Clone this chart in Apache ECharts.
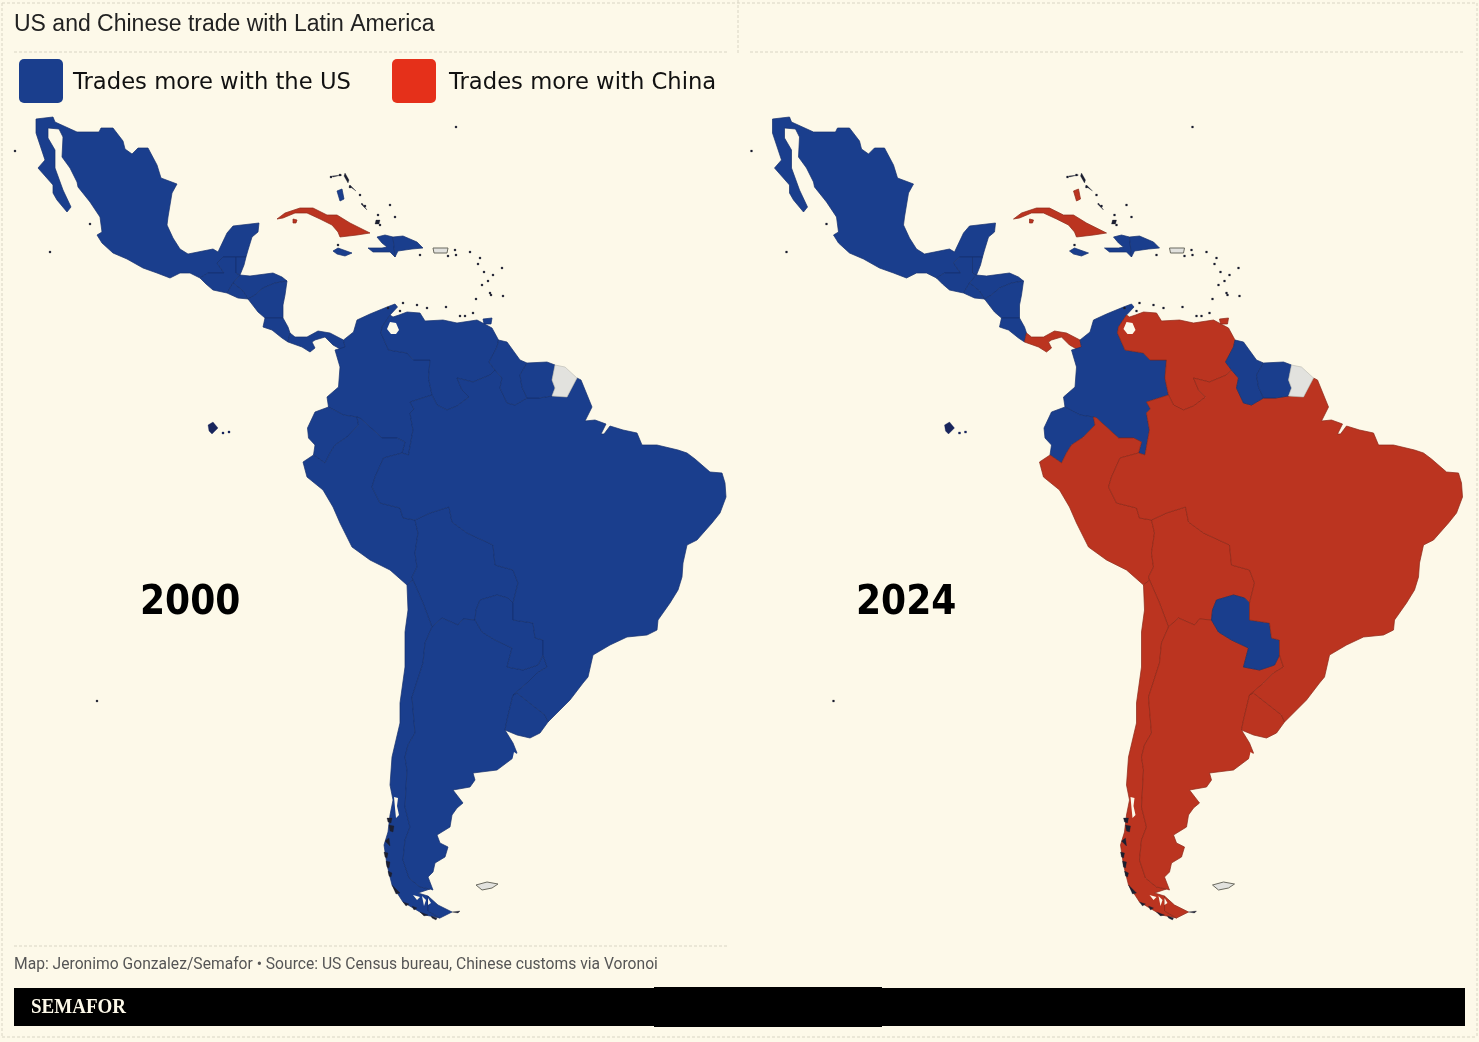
<!DOCTYPE html>
<html><head><meta charset="utf-8">
<script src="https://cdn.jsdelivr.net/npm/echarts@6/dist/echarts.min.js"></script>
<style>html,body{margin:0;padding:0;background:#fdf9e9}#c{width:1479px;height:1042px}</style>
</head><body><div id="c"></div>
<script>
// ---- data: who trades more with whom (US / China / none = territory, no data)
const countries = ['Mexico','Guatemala','Belize','Honduras','El Salvador','Nicaragua','Costa Rica','Panama','Colombia','Venezuela','Ecuador','Peru','Bolivia','Chile','Argentina','Paraguay','Uruguay','Brazil','Guyana','Suriname','Cuba','Jamaica','Haiti','Dominican Republic','Bahamas','Trinidad'];
const status2000 = ['US','US','US','US','US','US','US','US','US','US','US','US','US','US','US','US','US','US','US','US','China','US','US','US','US','US'];
const status2024 = ['US','US','US','US','US','US','US','China','US','China','US','China','China','China','China','US','China','China','US','US','China','US','US','US','China','China'];
const noData = ['French Guiana','Puerto Rico','Falklands'];
const islets = 'Islets', lakes = 'Water', galapagos = 'Galapagos';
const colors = {US:'#1a3e8d', China:'#bb3420'};
const borders = {US:'#142f6e', China:'#8c2717'};
const years = ['2000','2024'];
const legendLabels = ['Trades more with the US','Trades more with China'];
const titleText = 'US and Chinese trade with Latin America';
const sourceText = 'Map: Jeronimo Gonzalez/Semafor \u2022 Source: US Census bureau, Chinese customs via Voronoi';
const brandText = 'SEMAFOR';

// ---- country outlines in map units
const mexico=[[36,119],[53,117],[55,122],[77,132],[99,132],[101,128],[113,128],[123,141],[125,149],[132,154],[138,148],[148,148],[157,165],[161,178],[177,184],[172,193],[168,217],[167,225],[173,238],[180,249],[188,254],[213,249],[218,252],[227,233],[233,226],[259,223],[258,232],[252,237],[248,250],[246,257],[236,257],[223,257],[217,263],[224,273],[208,273],[200,278],[190,273],[180,273],[170,278],[157,273],[143,268],[127,259],[113,253],[102,243],[97,235],[102,232],[100,217],[90,202],[78,187],[77,182],[70,168],[62,157],[63,137],[59,129],[48,128],[48,138],[55,150],[55,168],[63,190],[71,207],[67,212],[57,200],[53,193],[53,185],[38,168],[45,160],[36,133]];
const guatemala=[[223,257],[236,257],[236,273],[240,275],[233,283],[227,293],[213,290],[206,284],[200,278],[208,273],[224,273],[217,263]];
const belize=[[236,257],[246,257],[244,265],[240,275],[236,273]];
const honduras=[[240,275],[250,276],[273,273],[282,277],[287,281],[275,283],[263,288],[255,295],[248,299],[243,291],[233,283]];
const salvador=[[227,293],[233,283],[243,291],[248,299],[238,298]];
const nicaragua=[[287,281],[285,295],[283,305],[283,318],[265,318],[258,312],[248,299],[255,295],[263,288],[275,283]];
const costaRica=[[265,318],[283,318],[288,327],[290,333],[288,342],[282,338],[272,330],[263,327]];
const panama=[[290,333],[295,337],[307,337],[318,331],[330,333],[343.5,340],[345,347],[342,350],[333,345],[325,337],[315,340],[312,342],[315,348],[310,352],[302,347],[288,342]];
const colombia=[[343.5,340],[353.5,332],[357,320],[370,314],[387,307],[395,304],[397.5,307],[390,315],[382,327],[381,333],[388.5,350],[407,353],[413.5,360],[430,360],[428.5,378],[432,395],[410,402],[414,409],[410,413],[413,430],[408.5,455],[402,453],[405,442],[397,438],[382,438],[360,418],[357,417],[343.5,415],[328.5,407],[327,397],[338.5,387],[340,367],[335,350],[345,347]];
const venezuela=[[381,333],[388.5,350],[407,353],[413.5,360],[430,360],[428.5,378],[432,395],[437,405],[447,410],[457,406],[469,397],[462,390],[457,378],[473,382],[490,375],[495,370],[489,362],[497,347],[498.5,340],[492,328],[477,320],[457,323],[443,320],[425,321],[420,313],[407,312],[399,315],[393,317],[390,315],[382,327]];
const ecuador=[[357,417],[358.5,425],[347,437],[335,445],[330,453],[325,463],[313.5,455],[315,445],[308.5,438],[307.5,428],[315,412],[328.5,407],[343.5,415]];
const peru=[[325,463],[330,453],[335,445],[347,437],[358.5,425],[357,417],[360,418],[382,438],[397,438],[405,442],[402,453],[383.5,458],[375,477],[372,487],[380,503],[400,508],[403,518],[415,520],[418,533],[415,553],[417,567],[412,577],[413,580],[407,585],[390,570],[370,560],[352,547],[340,523],[333,507],[323,490],[307,477],[303,462],[313.5,455]];
const bolivia=[[415,520],[430,513],[449,507],[452,522],[467,533],[493,545],[495,565],[513,570],[518,583],[513,603],[508,598],[497,595],[480,600],[476,610],[475,620],[463,619],[458,625],[442,618],[432,627],[423,603],[413,580],[412,577],[417,567],[415,553],[418,533]];
const chile=[[407,585],[413,580],[423,603],[432,627],[425,643],[423,663],[412,697],[415,733],[408,745],[405,757],[407,770],[405,807],[410,827],[405,840],[403,860],[409,878],[420,887],[430,889],[418,893],[428,896],[428,911],[440,918],[425,915],[403,902],[392,885],[387,865],[384,845],[388,832],[390,815],[393,800],[390,785],[392,757],[400,723],[400,703],[405,667],[405,632],[408,610]];
const argentina=[[432,627],[442,618],[458,625],[463,619],[475,620],[482,632],[495,640],[512,648],[507,667],[523,670],[538,665],[543,655],[547,667],[537,673],[527,683],[513,695],[507,720],[505,730],[513,743],[517,753],[513,758],[497,770],[473,773],[475,780],[470,787],[453,790],[463,803],[457,808],[452,815],[450,827],[437,835],[440,843],[448,847],[445,857],[435,863],[433,872],[428,877],[433,890],[430,889],[420,887],[409,878],[403,860],[405,840],[410,827],[405,807],[407,770],[405,757],[408,745],[415,733],[412,697],[423,663],[425,643]];
const fuegoAr=[[428,896],[438,905],[452,912],[440,918],[428,911]];
const paraguay=[[480,600],[497,595],[508,598],[513,603],[513,620],[533,623],[535,638],[543,640],[543,655],[538,665],[523,670],[507,667],[512,648],[495,640],[482,632],[475,620],[476,610]];
const uruguay=[[513,695],[517,693],[545,715],[548,722],[540,733],[530,738],[517,735],[505,730],[507,720]];
const brazil=[[408.5,455],[413,430],[410,413],[414,409],[410,402],[432,395],[437,405],[447,410],[457,406],[469,397],[462,390],[457,378],[473,382],[490,375],[495,370],[502,378],[500,388],[507,403],[515,405],[527,398],[539,398],[552,396],[567,397],[577,378],[581,380],[592,407],[589,413],[585,421],[595,420],[606,424],[601,434],[604,434],[610,426],[623,430],[637,433],[642,445],[657,445],[678,450],[687,453],[695,459],[710,472],[722,473],[725,483],[726,497],[720,513],[712,523],[697,540],[687,545],[683,563],[682,577],[678,590],[670,603],[658,620],[657,630],[647,635],[627,637],[610,645],[593,655],[588,677],[583,683],[570,700],[557,713],[548,722],[545,715],[517,693],[513,695],[527,683],[537,673],[547,667],[543,655],[543,640],[535,638],[533,623],[513,620],[513,603],[518,583],[513,570],[495,565],[493,545],[467,533],[452,522],[449,507],[430,513],[415,520],[403,518],[400,508],[380,503],[372,487],[375,477],[383.5,458],[402,453]];
const guyana=[[498.5,340],[507,342],[520,360],[527,363],[520,375],[522,387],[527,398],[515,405],[507,403],[500,388],[502,378],[495,370],[489,362],[497,347]];
const suriname=[[527,363],[547,362],[555,365],[552,380],[555,388],[552,396],[539,398],[527,398],[522,387],[520,375]];
const frGuiana=[[555,365],[565,367],[577,378],[567,397],[552,396],[555,388],[552,380]];
const cuba=[[277,219],[285,213],[300,208],[313,208],[327,215],[337,215],[350,223],[370,233],[357,235],[340,237],[338,232],[332,225],[320,219],[307,213],[295,213],[283,218]];
const juventud=[[293,219],[297,220],[296,223],[293,223]];
const jamaica=[[333,251],[338,248],[352,253],[345,256],[337,254]];
const haiti=[[368,248],[382,248],[387,247],[382,243],[377,237],[385,235],[393,237],[395,257],[390,252],[373,252]];
const dominican=[[393,237],[403,236],[417,242],[423,248],[412,249],[398,251],[395,257]];
const puertoRico=[[433,248],[448,248],[447,253],[434,253]];
const andros=[[337,191],[342,189],[344,199],[340,201]];
const trinidad=[[483,319],[492,318],[491,324],[484,324]];
const falklands=[[476,885],[487,882],[498,884],[492,888],[482,890]];
const galapagosIs=[[[208,425],[213,422],[218,428],[212,434],[209,431]],[[222,432],[224,432],[224,434],[222,434]],[[228,431],[230,431],[230,433],[228,433]]];
const maracaibo=[[390,322],[396,323],[399,330],[396,334],[391,334],[387,329]];
const channels=[[[394,797],[398,798],[397,806],[399,815],[396,818],[395,808]],[[413,895],[420,897],[417,900]],[[422,896],[426,900],[424,906]],[[428,898],[431,903],[428,905]],[[514,752],[520,756],[512,761]]];
const isletSpots=[[15,151],[456,127],[97,701],[50,252],[90,224],[331,177],[340,175],[350,187],[360,195],[365,206],[378,215],[380,225],[395,217],[390,205],[476,299],[490,293],[478,264],[482,285],[484,272],[488,281],[491,295],[503,296],[403,303],[417,305],[400,311],[427,308],[446,307],[460,316],[465,316],[473,313],[388,308],[338,245],[420,255],[448,256],[455,250],[456,255],[470,252],[480,258],[502,268],[493,275]];
const bahamaLines=[[[332,176],[342,175],[343,176],[333,177]],[[345,173],[349,180],[348,183],[344,176]],[[350,185],[356,191],[355,192],[349,186]],[[362,203],[367,210],[366,211],[361,204]],[[376,220],[380,220],[379,224],[375,224]]];
const fringe=[[[387,818],[392,818],[391,823],[388,822]],[[389,825],[394,826],[393,832],[390,831]],[[384,852],[388,853],[387,858],[385,857]],[[386,861],[390,862],[389,868],[387,867]],[[388,871],[392,873],[391,877],[389,876]],[[392,885],[400,893],[396,894]],[[403,902],[409,904],[406,906]],[[412,906],[417,908],[414,910]],[[420,912],[428,915],[424,916]],[[431,916],[437,918],[436,920],[432,918]],[[452,912],[460,911],[458,913]],[[385,841],[389,838],[390,846]]];

// ---- build geojson
const feat=(name,polys)=>({type:'Feature',properties:{name},geometry:{type:'MultiPolygon',coordinates:polys.map(p=>[p.concat([p[0]])])}});
const square=([x,y])=>[[x-0.9,y-0.9],[x+0.9,y-0.9],[x+0.9,y+0.9],[x-0.9,y+0.9]];
const shapes={Mexico:[mexico],Guatemala:[guatemala],Belize:[belize],Honduras:[honduras],'El Salvador':[salvador],Nicaragua:[nicaragua],'Costa Rica':[costaRica],Panama:[panama],Colombia:[colombia],Venezuela:[venezuela],Ecuador:[ecuador],Peru:[peru],Bolivia:[bolivia],Chile:[chile],Argentina:[argentina,fuegoAr],Paraguay:[paraguay],Uruguay:[uruguay],Brazil:[brazil],Guyana:[guyana],Suriname:[suriname],Cuba:[cuba,juventud],Jamaica:[jamaica],Haiti:[haiti],'Dominican Republic':[dominican],Bahamas:[andros],Trinidad:[trinidad],'French Guiana':[frGuiana],'Puerto Rico':[puertoRico],Falklands:[falklands]};
const features=Object.keys(shapes).map(k=>feat(k,shapes[k]));
features.push(feat(lakes,[maracaibo].concat(channels)));
features.push(feat(galapagos,galapagosIs));
features.push(feat(islets,isletSpots.map(square).concat(bahamaLines,fringe)));
// series of one map name are merged by ECharts, so each panel registers its own
years.forEach(y=>echarts.registerMap('latam'+y,{type:'FeatureCollection',features:JSON.parse(JSON.stringify(features))}));

const seriesData=(status)=>{
  const d=countries.map((n,i)=>({name:n,value:1,itemStyle:{areaColor:colors[status[i]],borderColor:borders[status[i]]}}));
  noData.forEach(n=>d.push({name:n,value:0,itemStyle:{areaColor:'#e2e2de',borderColor:n==='French Guiana'?'#b9b9b0':'#6b6b60',borderWidth:n==='French Guiana'?0.6:1}}));
  d.push({name:lakes,value:0,itemStyle:{areaColor:'#fdf9e9',borderColor:'#fdf9e9',borderWidth:0}});
  d.push({name:galapagos,value:0,itemStyle:{areaColor:'#18255c',borderColor:'#18255c',borderWidth:0.3}});
  d.push({name:islets,value:0,itemStyle:{areaColor:'#1c1f30',borderColor:'#1c1f30',borderWidth:0.3}});
  return d;
};
const project={project:p=>[p[0],p[1]],unproject:p=>[p[0],p[1]]};
const mapSeries=(year,status,left)=>({type:'map',map:'latam'+year,silent:true,roam:false,projection:project,
  boundingCoords:[[0,0],[735,1042]],left,top:0,width:735,height:1042,
  label:{show:false},emphasis:{disabled:true},select:{disabled:true},
  itemStyle:{borderWidth:0.7,areaColor:'#fdf9e9',borderColor:'#142f6e'},data:seriesData(status)});

// ---- furniture
const rule=(x1,y1,x2,y2,c)=>({type:'line',silent:true,shape:{x1,y1,x2,y2},style:{stroke:c||'#d9d5c4',lineWidth:1,lineDash:[3,2]}});
const text=(x,y,t,font,fill,extra)=>Object.assign({type:'text',silent:true,x,y,style:{text:t,font,fill,textVerticalAlign:'middle'}},extra||{});
const swatch=(x,c)=>({type:'rect',silent:true,shape:{x,y:59,width:44,height:44,r:5},style:{fill:c}});

const chart=echarts.init(document.getElementById('c'),null,{renderer:'canvas'});
chart.setOption({
  backgroundColor:'#fdf9e9',animation:false,
  series:[mapSeries(years[0],status2000,0),mapSeries(years[1],status2024,736.5)],
  graphic:[
    rule(2,3,1477,3),rule(2,1037,1477,1037),rule(2,3,2,1037),rule(1477,3,1477,1037),
    rule(14,52,727,52),rule(750,52,1465,52),rule(738,0,738,55),rule(14,946,728,946),
    text(14,25,titleText,'23px "Liberation Sans"','#222'),
    swatch(19,'#1a3e8d'),swatch(392,'#e5301a'),
    text(73,83,legendLabels[0],'22.7px "DejaVu Sans"','#111'),
    text(449,83,legendLabels[1],'22.7px "DejaVu Sans"','#111'),
    text(140,603,years[0],'bold 41px "DejaVu Sans"','#000',{scaleX:0.88}),
    text(856,603,years[1],'bold 41px "DejaVu Sans"','#000',{scaleX:0.88}),
    text(14,965,sourceText,'17px Roboto','#555',{scaleX:0.92}),
    {type:'rect',silent:true,shape:{x:14,y:988,width:1451,height:38},style:{fill:'#000'}},
    {type:'rect',silent:true,shape:{x:654,y:987,width:228,height:40},style:{fill:'#000'}},
    text(31,1008,brandText,'bold 20px "Liberation Serif"','#fdf9e9',{scaleX:0.95})
  ]
});
</script></body></html>
